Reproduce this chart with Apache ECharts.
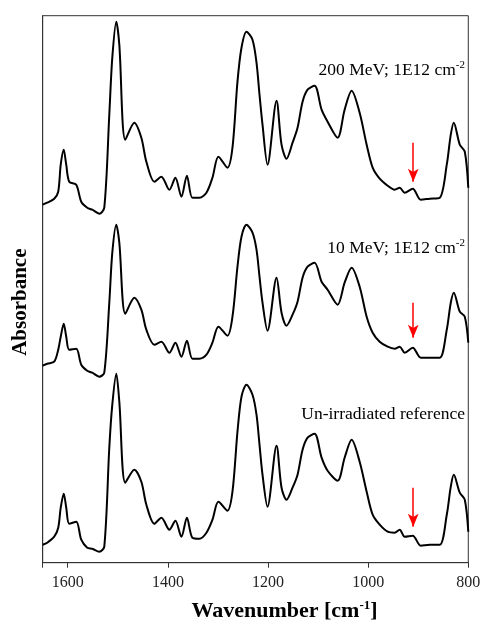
<!DOCTYPE html>
<html>
<head>
<meta charset="utf-8">
<script src="https://cdn.jsdelivr.net/npm/echarts@6/dist/echarts.min.js"></script>
<style>
  html, body { margin: 0; padding: 0; background: #fff; }
  #main { width: 483px; height: 620px; }
</style>
</head>
<body>
<div id="main"></div>
<script>
// wavenumbers (cm-1), shared by the three spectra
var wavenumbers = [1650, 1641, 1627, 1619, 1614, 1608, 1603, 1597, 1583, 1573, 1561, 1551, 1537, 1527,
  1517, 1511, 1503, 1497, 1485, 1467, 1453, 1443, 1427, 1413, 1397, 1385,
  1373, 1362, 1351, 1337, 1323, 1311, 1299, 1281, 1271, 1261, 1253, 1243,
  1231, 1223, 1217, 1211, 1201, 1183, 1173, 1163, 1151, 1141, 1131, 1121,
  1107, 1093, 1081, 1061, 1047, 1033, 1017, 1003, 991, 977, 961, 947,
  937, 927, 911, 895, 877, 857, 843, 835, 829, 817, 807, 800];

// offset absorbance (a.u.)
var mev200 = [3.58, 3.60, 3.64, 3.71, 3.98, 4.13, 3.98, 3.81, 3.78, 3.61, 3.55, 3.53, 3.49, 3.55,
  4.48, 5.05, 5.41, 5.18, 4.23, 4.40, 4.25, 4.01, 3.81, 3.86, 3.73, 3.85,
  3.66, 3.87, 3.65, 3.65, 3.70, 3.85, 4.06, 3.95, 4.15, 4.81, 5.15, 5.31,
  5.23, 5.00, 4.68, 4.38, 3.98, 4.62, 4.18, 4.04, 4.20, 4.35, 4.61, 4.73,
  4.77, 4.53, 4.41, 4.25, 4.53, 4.72, 4.50, 4.18, 3.95, 3.84, 3.77, 3.73,
  3.75, 3.70, 3.74, 3.63, 3.64, 3.65, 3.98, 4.28, 4.40, 4.18, 4.11, 3.75];

var mev10 = [1.97, 1.99, 2.01, 2.13, 2.26, 2.39, 2.26, 2.13, 2.14, 1.98, 1.92, 1.90, 1.86, 1.90,
  2.60, 3.10, 3.38, 3.20, 2.49, 2.65, 2.53, 2.33, 2.18, 2.21, 2.10, 2.20,
  2.06, 2.22, 2.04, 2.04, 2.08, 2.20, 2.36, 2.27, 2.46, 2.96, 3.26, 3.38,
  3.30, 3.13, 2.86, 2.60, 2.32, 2.85, 2.50, 2.37, 2.48, 2.61, 2.85, 2.96,
  3.00, 2.81, 2.73, 2.58, 2.80, 2.95, 2.76, 2.46, 2.30, 2.21, 2.16, 2.14,
  2.16, 2.10, 2.15, 2.05, 2.05, 2.05, 2.33, 2.60, 2.70, 2.51, 2.46, 2.20];

var unirradiated = [0.18, 0.20, 0.26, 0.35, 0.55, 0.69, 0.55, 0.39, 0.41, 0.23, 0.15, 0.14, 0.11, 0.16,
  1.15, 1.58, 1.89, 1.61, 0.80, 0.93, 0.81, 0.58, 0.39, 0.45, 0.33, 0.42,
  0.26, 0.45, 0.25, 0.24, 0.30, 0.43, 0.61, 0.52, 0.71, 1.31, 1.66, 1.78,
  1.68, 1.48, 1.18, 0.88, 0.56, 1.17, 0.75, 0.63, 0.75, 0.88, 1.13, 1.25,
  1.29, 1.05, 0.92, 0.82, 1.05, 1.23, 1.01, 0.71, 0.48, 0.38, 0.31, 0.30,
  0.33, 0.26, 0.27, 0.17, 0.18, 0.18, 0.48, 0.76, 0.88, 0.70, 0.63, 0.31];

// red arrows at ~910 cm-1: [wavenumber, tail, head]
var arrowTop = [910, 4.20, 3.81];
var arrowMid = [910, 2.60, 2.25];
var arrowBot = [910, 0.75, 0.36];

var seriesLabels = ["200 MeV; 1E12 cm", "10 MeV; 1E12 cm", "Un-irradiated reference"];

var font = "'Liberation Serif', 'DejaVu Serif', serif";

function pairs(vals) {
  return wavenumbers.map(function (w, i) {
    return [w, vals[i]];
  });
}

function arrow(a) {
  return {
    silent: true,
    symbol: ["none", "arrow"],
    symbolSize: [8, 13],
    label: { show: false },
    lineStyle: { color: "#ff0000", width: 1.5, type: "solid" },
    data: [[{ coord: [a[0], a[1]] }, { coord: [a[0], a[2]] }]]
  };
}

function spectrum(name, vals, a) {
  return {
    name: name,
    type: "line",
    data: pairs(vals),
    smooth: 0.3,
    showSymbol: false,
    lineStyle: { color: "#000", width: 2 },
    markLine: arrow(a)
  };
}

var myChart = echarts.init(document.getElementById("main"));

var supRich = {
  n: { fontFamily: font, fontSize: 17.5, color: "#222", lineHeight: 20 },
  s: { fontFamily: font, fontSize: 11, color: "#222", verticalAlign: "top", lineHeight: 20 }
};

myChart.setOption({
  animation: false,
  backgroundColor: "#fff",
  grid: {
    left: 42.7,
    right: 14.7,
    top: 15.7,
    bottom: 57.3,
    containLabel: false,
    outerBoundsMode: "none",
    show: true,
    borderColor: "#333",
    borderWidth: 1
  },
  xAxis: {
    type: "value",
    inverse: true,
    min: 800,
    max: 1650,
    interval: 200,
    name: "{b|Wavenumber [cm}{bs|-1}{b|]}",
    nameLocation: "middle",
    nameGap: 36,
    nameTextStyle: {
      padding: [0, 0, 0, 58],
      rich: {
        b: { fontFamily: font, fontSize: 22, fontWeight: "bold", color: "#000", lineHeight: 25 },
        bs: { fontFamily: font, fontSize: 13, fontWeight: "bold", color: "#000", verticalAlign: "top", lineHeight: 25 }
      }
    },
    axisLine: { lineStyle: { color: "#333", width: 1 } },
    axisTick: { inside: false, length: 5, lineStyle: { color: "#333" } },
    splitLine: { show: false },
    axisLabel: {
      margin: 12,
      fontFamily: font,
      fontSize: 16,
      color: "#222",
      formatter: function (v) {
        return v % 200 === 0 ? String(v) : "";
      }
    }
  },
  yAxis: {
    type: "value",
    min: 0,
    max: 5.47,
    name: "Absorbance",
    nameLocation: "middle",
    nameGap: 12,
    nameTextStyle: {
      fontFamily: font, fontSize: 21, fontWeight: "bold", color: "#000",
      padding: [0, 26, 0, 0]
    },
    axisLine: { show: true, lineStyle: { color: "#333", width: 1 } },
    axisTick: { show: false },
    axisLabel: { show: false },
    splitLine: { show: false }
  },
  graphic: [
    {
      type: "text", right: 18, top: 60,
      style: { text: "{n|" + seriesLabels[0] + "}{s|-2}", rich: supRich }
    },
    {
      type: "text", right: 18, top: 238,
      style: { text: "{n|" + seriesLabels[1] + "}{s|-2}", rich: supRich }
    },
    {
      type: "text", right: 18, top: 405,
      style: { text: "{n|" + seriesLabels[2] + "}", rich: supRich }
    }
  ],
  series: [
    spectrum("200 MeV", mev200, arrowTop),
    spectrum("10 MeV", mev10, arrowMid),
    spectrum("Un-irradiated", unirradiated, arrowBot)
  ]
});
</script>
</body>
</html>
